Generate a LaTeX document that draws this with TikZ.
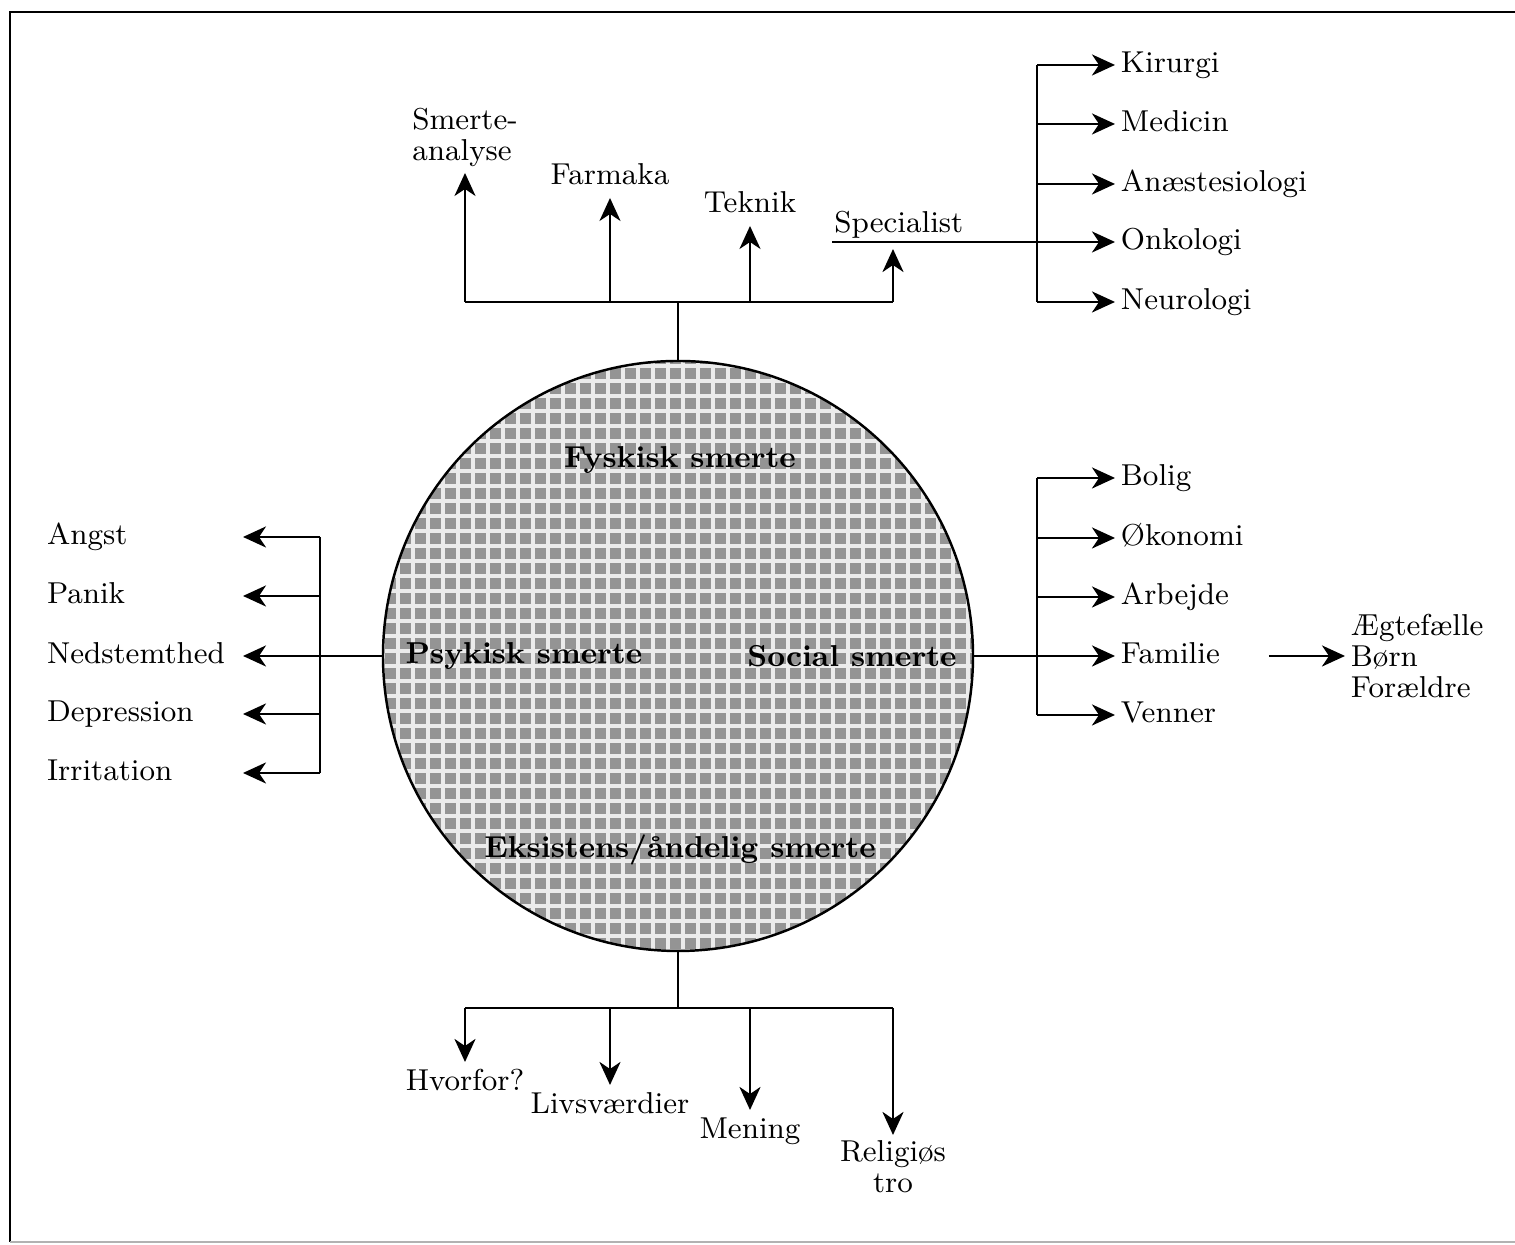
\documentclass[tikz,border=0pt]{standalone}
\usepackage{fontspec}
\usetikzlibrary{arrows.meta,positioning}
\begin{document}
\begin{tikzpicture}[
 lbl/.style={font=\fontsize{8.6}{8.8}\selectfont,inner sep=1.5pt,text height=6.5pt,text depth=2pt},
 mlbl/.style={font=\fontsize{8.6}{8.8}\selectfont,inner sep=1.5pt},
 mid/.style={font=\fontsize{8.6}{10}\selectfont\bfseries,inner sep=1pt},
 ln/.style={line width=0.8pt},
 arr/.style={-{Stealth[length=2.3mm,width=2.1mm,inset=0.7mm]},line width=0.8pt}]
\useasboundingbox (0,0) rectangle (15.15,12.45);
% frame
\draw[line width=0.8pt] (15.15,12.33) -- (0.10,12.33) -- (0.10,0.03);
\draw[gray!60,line width=0.5pt] (0.10,0.03) -- (15.15,0.03);
% circle
\node[circle,minimum size=5.9cm,inner sep=0pt] (c) at (6.78,5.89) {};
\begin{scope}
 \clip (c.center) circle (2.95);
 \fill[black!42] (3.83,2.94) rectangle (9.73,8.84);
 \foreach \i in {0,...,40}{
  \draw[white!92!black,line width=1pt] (3.83+\i*0.15,2.94) -- ++(0,5.9);
  \draw[white!92!black,line width=1pt] (3.83,2.94+\i*0.15) -- ++(5.9,0);
 }
\end{scope}
\draw[line width=0.7pt] (c.center) circle (2.95);
\node[mid] (fys) at (6.80,7.85) {Fyskisk smerte};
\node[mid] (psy) at (5.24,5.89) {Psykisk smerte};
\node[mid] (soc) at (8.52,5.89) {Social smerte};
\node[mid] (eks) at (6.80,3.95) {Eksistens/åndelig smerte};
% top
\coordinate (tl) at (4.65,9.43);
\coordinate (tr) at (8.93,9.43);
\draw[ln] (c.north) -- (c.north |- tl);
\draw[ln] (tl) -- (tr);
\node[mlbl,anchor=south,align=left] (sa) at (4.65,10.72) {Smerte-\\analyse};
\node[lbl,anchor=south] (fa) at (6.10,10.47) {Farmaka};
\node[lbl,anchor=south] (te) at (7.50,10.19) {Teknik};
\node[lbl,anchor=south west,inner sep=0.5pt] (sp) at (8.32,10.03) {Specialist};
\draw[arr] (tl) -- (sa);
\draw[arr] (fa |- tl) -- (fa);
\draw[arr] (te |- tl) -- (te);
\draw[arr] (tr) -- ([yshift=-2pt]sp.south -| tr);
% specialists
\coordinate (sb) at (10.37,9.43);
\node[lbl,anchor=west] (kir) at (11.15,11.80) {Kirurgi};
\node[lbl,anchor=west] (med) at (11.15,11.21) {Medicin};
\node[lbl,anchor=west] (anae) at (11.15,10.61) {Anæstesiologi};
\node[lbl,anchor=west] (onk) at (11.15,10.03) {Onkologi};
\node[lbl,anchor=west] (neu) at (11.15,9.43) {Neurologi};
\draw[ln] (kir.west -| sb) -- (neu.west -| sb);
\foreach \n in {kir,med,anae,neu}
 \draw[arr] (\n.west -| sb) -- (\n.west);
\draw[arr] (sp.south west) -- (onk.west);
% left
\coordinate (lj) at (3.20,5.89);
\draw[ln] (c.west) -- (lj);
\node[lbl,anchor=east,text width=1.9cm,align=left] (ang) at (2.43,7.08) {Angst};
\node[lbl,anchor=east,text width=1.9cm,align=left] (pan) at (2.43,6.49) {Panik};
\node[lbl,anchor=east,text width=1.9cm,align=left] (ned) at (2.43,5.89) {Nedstemthed};
\node[lbl,anchor=east,text width=1.9cm,align=left] (dep) at (2.43,5.31) {Depression};
\node[lbl,anchor=east,text width=1.9cm,align=left] (irr) at (2.43,4.72) {Irritation};
\draw[ln] (ang.east -| lj) -- (irr.east -| lj);
\foreach \n in {ang,pan,ned,dep,irr}
 \draw[arr] (\n.east -| lj) -- (\n.east);
% right
\coordinate (rj) at (10.37,5.89);
\draw[ln] (c.east) -- (rj);
\node[lbl,anchor=west] (bol) at (11.15,7.67) {Bolig};
\node[lbl,anchor=west] (oko) at (11.15,7.07) {Økonomi};
\node[lbl,anchor=west] (arb) at (11.15,6.48) {Arbejde};
\node[lbl,anchor=west] (fam) at (11.15,5.89) {Familie};
\node[lbl,anchor=west] (ven) at (11.15,5.30) {Venner};
\draw[ln] (bol.west -| rj) -- (ven.west -| rj);
\foreach \n in {bol,oko,arb,fam,ven}
 \draw[arr] (\n.west -| rj) -- (\n.west);
\node[mlbl,anchor=west,align=left] (slg) at (13.45,5.89) {Ægtefælle\\Børn\\Forældre};
\draw[arr,shorten <=4.3mm] (fam.east) -- (slg.west);
% bottom
\coordinate (bl) at (4.65,2.37);
\coordinate (br) at (8.93,2.37);
\draw[ln] (c.south) -- (c.south |- bl);
\draw[ln] (bl) -- (br);
\node[lbl,anchor=north] (hv) at (4.65,1.83) {Hvorfor?};
\node[lbl,anchor=north] (lv) at (6.10,1.60) {Livsværdier};
\node[lbl,anchor=north] (men) at (7.50,1.35) {Mening};
\node[mlbl,anchor=north,align=center] (rel) at (8.93,1.10) {Religiøs\\tro};
\foreach \n in {hv,lv,men,rel}
 \draw[arr] (\n.north |- bl) -- (\n.north);
\end{tikzpicture}
\end{document}
